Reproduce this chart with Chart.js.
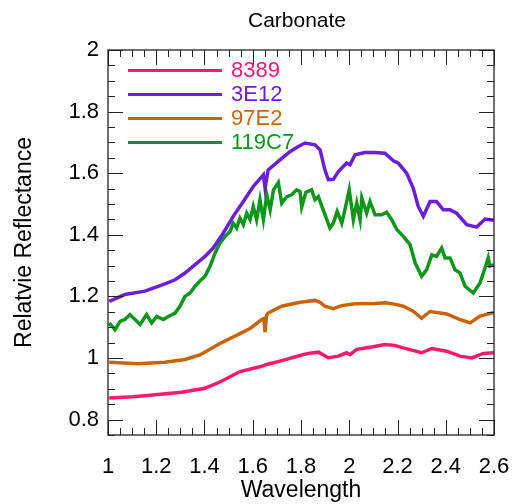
<!DOCTYPE html>
<html>
<head>
<meta charset="utf-8">
<script src="https://cdn.jsdelivr.net/npm/chart.js@4.4.1/dist/chart.umd.min.js"></script>
<style>
	html, body { margin: 0; padding: 0; background: #fff; }
</style>
</head>
<body>
<canvas id="myChart" width="513" height="504"></canvas>
<script>
const xTicks = [1, 1.2, 1.4, 1.6, 1.8, 2, 2.2, 2.4, 2.6];
const yTicks = [0.8, 1, 1.2, 1.4, 1.6, 1.8, 2];

const names = ['8389', '3E12', '97E2', '119C7'];
const colors = ['#ff1a6e', '#6a1fd8', '#c8640c', '#0c961c'];

const wl8389 = [1.005, 1.104, 1.195, 1.305, 1.402, 1.464, 1.547, 1.637, 1.658, 1.713, 1.796, 1.830, 1.872, 1.913, 1.955, 1.989, 2.003, 2.031, 2.093, 2.148, 2.187, 2.224, 2.300, 2.342, 2.404, 2.459, 2.508, 2.556, 2.600];
const ref8389 = [0.870, 0.874, 0.881, 0.889, 0.902, 0.922, 0.956, 0.973, 0.979, 0.990, 1.008, 1.015, 1.019, 1.001, 1.006, 1.017, 1.011, 1.028, 1.036, 1.044, 1.041, 1.033, 1.017, 1.031, 1.022, 1.006, 1.000, 1.015, 1.017];

const wl3E12 = [1.005, 1.070, 1.153, 1.236, 1.278, 1.319, 1.361, 1.402, 1.436, 1.478, 1.519, 1.561, 1.602, 1.644, 1.651, 1.664, 1.713, 1.754, 1.789, 1.817, 1.858, 1.879, 1.899, 1.913, 1.934, 1.955, 1.989, 2.003, 2.024, 2.065, 2.107, 2.148, 2.183, 2.203, 2.238, 2.265, 2.286, 2.307, 2.335, 2.362, 2.390, 2.418, 2.445, 2.487, 2.528, 2.563, 2.600];
const ref3E12 = [1.184, 1.206, 1.217, 1.241, 1.254, 1.276, 1.303, 1.330, 1.357, 1.406, 1.460, 1.508, 1.557, 1.595, 1.552, 1.611, 1.643, 1.670, 1.687, 1.698, 1.692, 1.676, 1.611, 1.579, 1.580, 1.605, 1.633, 1.627, 1.660, 1.667, 1.667, 1.665, 1.640, 1.633, 1.600, 1.552, 1.492, 1.460, 1.508, 1.508, 1.481, 1.481, 1.470, 1.433, 1.425, 1.451, 1.447];

const wl97E2 = [1.005, 1.125, 1.236, 1.319, 1.381, 1.464, 1.547, 1.589, 1.637, 1.646, 1.651, 1.657, 1.664, 1.720, 1.796, 1.858, 1.879, 1.899, 1.934, 1.969, 2.024, 2.107, 2.148, 2.187, 2.224, 2.265, 2.300, 2.335, 2.404, 2.459, 2.501, 2.542, 2.600];
const ref97E2 = [0.986, 0.981, 0.986, 0.995, 1.010, 1.047, 1.079, 1.096, 1.125, 1.128, 1.084, 1.138, 1.146, 1.168, 1.181, 1.187, 1.181, 1.168, 1.160, 1.170, 1.176, 1.177, 1.179, 1.175, 1.168, 1.152, 1.129, 1.151, 1.143, 1.125, 1.114, 1.136, 1.148];

const wl119C7 = [1.005, 1.029, 1.050, 1.070, 1.091, 1.112, 1.133, 1.160, 1.181, 1.202, 1.229, 1.250, 1.278, 1.298, 1.319, 1.340, 1.361, 1.381, 1.402, 1.423, 1.444, 1.464, 1.485, 1.506, 1.519, 1.533, 1.547, 1.561, 1.575, 1.589, 1.602, 1.616, 1.630, 1.644, 1.658, 1.672, 1.686, 1.706, 1.720, 1.741, 1.761, 1.782, 1.796, 1.803, 1.820, 1.844, 1.858, 1.872, 1.892, 1.920, 1.934, 1.950, 1.969, 1.982, 2.000, 2.017, 2.031, 2.045, 2.052, 2.072, 2.086, 2.107, 2.134, 2.155, 2.176, 2.197, 2.224, 2.252, 2.273, 2.300, 2.321, 2.342, 2.362, 2.383, 2.397, 2.418, 2.438, 2.459, 2.480, 2.514, 2.542, 2.563, 2.576, 2.583, 2.600];
const ref119C7 = [1.114, 1.092, 1.119, 1.125, 1.141, 1.125, 1.109, 1.141, 1.114, 1.135, 1.125, 1.135, 1.146, 1.168, 1.200, 1.211, 1.233, 1.250, 1.265, 1.298, 1.341, 1.373, 1.395, 1.411, 1.438, 1.422, 1.454, 1.433, 1.470, 1.449, 1.492, 1.449, 1.514, 1.449, 1.530, 1.481, 1.546, 1.570, 1.503, 1.524, 1.530, 1.546, 1.540, 1.490, 1.538, 1.546, 1.514, 1.524, 1.481, 1.422, 1.438, 1.476, 1.438, 1.481, 1.546, 1.449, 1.503, 1.449, 1.519, 1.470, 1.508, 1.465, 1.465, 1.473, 1.449, 1.417, 1.395, 1.368, 1.309, 1.265, 1.287, 1.335, 1.330, 1.357, 1.325, 1.325, 1.287, 1.276, 1.233, 1.211, 1.244, 1.292, 1.325, 1.298, 1.303];

const FONT = 'Liberation Sans, Helvetica, Arial, sans-serif';

function toPoints(wl, ref) {
	return wl.map((w, i) => ({ x: w, y: ref[i] }));
}

let series = [[wl8389, ref8389], [wl3E12, ref3E12], [wl97E2, ref97E2], [wl119C7, ref119C7]];
let datasets = series.map((s, i) => ({
	label: names[i],
	data: toPoints(s[0], s[1]),
	borderColor: colors[i],
	borderWidth: 3.5,
	pointRadius: 0,
	fill: false,
	tension: 0
}));

// box, inward ticks, title and the legend inside the plot
const framePlugin = {
	id: 'frame',
	afterDatasetsDraw(chart) {
		let ctx = chart.ctx;
		let a = chart.chartArea;
		let xs = chart.scales.x;
		let ys = chart.scales.y;
		ctx.save();
		ctx.strokeStyle = '#404040';
		ctx.lineWidth = 1.5;
		ctx.strokeRect(a.left, a.top, a.right - a.left, a.bottom - a.top);

		ctx.lineWidth = 1;
		ctx.strokeStyle = '#222';
		ctx.beginPath();
		for (let i = 0; i < xTicks.length; i++) {
			for (let k = 0; k < 4; k++) {
				if (i === xTicks.length - 1 && k > 0) break;
				let v = xTicks[i] + k * 0.05;
				let px = Math.round(xs.getPixelForValue(v)) + 0.5;
				let len = k === 0 ? 15 : 7;
				ctx.moveTo(px, a.bottom); ctx.lineTo(px, a.bottom - len);
				ctx.moveTo(px, a.top); ctx.lineTo(px, a.top + len);
			}
		}
		let yv = [yTicks[0] - 0.05];
		yTicks.forEach((t, i) => {
			for (let k = 0; k < 4; k++) {
				if (i === yTicks.length - 1 && k > 0) break;
				yv.push(t + k * 0.05);
			}
		});
		yv.forEach((v) => {
			let py = Math.round(ys.getPixelForValue(v)) + 0.5;
			let major = yTicks.some((t) => Math.abs(t - v) < 1e-6);
			let len = major ? 15 : 7;
			ctx.moveTo(a.left, py); ctx.lineTo(a.left + len, py);
			ctx.moveTo(a.right, py); ctx.lineTo(a.right - len, py);
		});
		ctx.stroke();

		ctx.fillStyle = '#000';
		ctx.font = '21px ' + FONT;
		ctx.textAlign = 'center';
		ctx.textBaseline = 'middle';
		ctx.fillText('Carbonate', (a.left + a.right) / 2 - 4, 21);

		ctx.textAlign = 'left';
		ctx.font = '22px ' + FONT;
		chart.data.datasets.forEach((ds, i) => {
			let y = a.top + 20.5 + i * 24;
			ctx.strokeStyle = ds.borderColor;
			ctx.lineWidth = 3;
			ctx.beginPath();
			ctx.moveTo(a.left + 20, y);
			ctx.lineTo(a.left + 114, y);
			ctx.stroke();
			ctx.fillStyle = ds.borderColor;
			ctx.fillText(ds.label, a.left + 123, y);
		});
		ctx.restore();
	}
};

function createChart(elID) {
	let ctx = document.getElementById(elID).getContext('2d');
	let tickFont = { family: FONT, size: 22 };
	return new Chart(ctx, {
		type: 'line',
		data: { datasets: datasets },
		options: {
			responsive: false,
			animation: false,
			layout: { padding: { top: 50, right: 19, left: 0, bottom: 0 } },
			plugins: {
				legend: { display: false },
				tooltip: { enabled: false }
			},
			scales: {
				x: {
					type: 'linear',
					min: 1,
					max: 2.6,
					grid: { display: false, drawTicks: false },
					border: { display: false },
					afterBuildTicks: (scale) => { scale.ticks = xTicks.map((v) => ({ value: v })); },
					ticks: { font: tickFont, color: '#000', padding: 19, maxRotation: 0, autoSkip: false, callback: (v) => String(v) },
					title: { display: true, text: 'Wavelength', color: '#000', font: { family: FONT, size: 23 }, padding: { top: 0, bottom: 0 } },
					afterFit: (scale) => {
						scale.height = 69;
						scale.paddingLeft = 0;
						scale.paddingRight = 0;
					}
				},
				y: {
					type: 'linear',
					min: 0.75,
					max: 2,
					grid: { display: false, drawTicks: false },
					border: { display: false },
					afterBuildTicks: (scale) => { scale.ticks = yTicks.map((v) => ({ value: v })); },
					ticks: { font: tickFont, color: '#000', padding: 9, autoSkip: false, callback: (v) => String(v) },
					title: { display: true, text: 'Relatvie Reflectance', color: '#000', font: { family: FONT, size: 23 }, padding: { top: 11, bottom: 0 } },
					afterFit: (scale) => {
						scale.width = 108;
						scale.paddingTop = 0;
						scale.paddingBottom = 0;
					}
				}
			}
		},
		plugins: [framePlugin]
	});
}

createChart('myChart');
</script>
</body>
</html>
